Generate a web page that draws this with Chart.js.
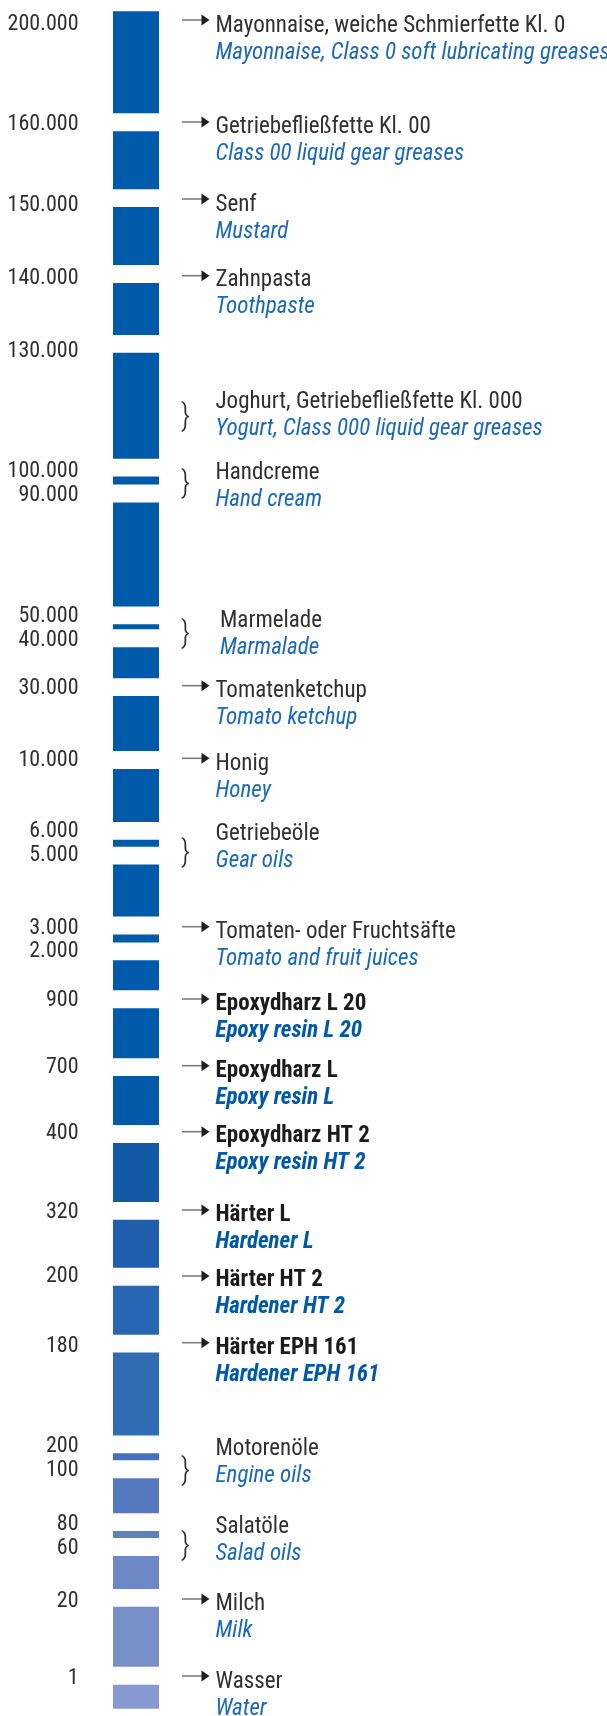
<!DOCTYPE html>
<html>
<head>
<meta charset="utf-8">
<script src="https://cdn.jsdelivr.net/npm/chart.js@4/dist/chart.umd.min.js"></script>
<style>
  html, body { margin: 0; padding: 0; background: #fff; }
  canvas { display: block; }
</style>
</head>
<body>
<canvas id="scale" width="607" height="1716"></canvas>
<script>
// column pieces, top to bottom (axis units)
const segStart = 11.3;
const segGap = 17.86;
const segLen = [102, 58, 58, 52, 106, 8, 104, 5, 31, 55, 53, 7, 52, 8, 30, 50, 49, 59, 48, 49, 83, 7, 35, 7, 33, 60, 24];
const segColors = [
  "#005aaa", "#005aaa", "#005aaa", "#005aaa", "#005aaa", "#005aaa", "#005aaa", "#005aaa", "#005aaa",
  "#005aaa", "#005aaa", "#005aaa", "#005aaa", "#005aaa", "#005aaa", "#005aaa", "#0559a9", "#1259a8",
  "#1f5fad", "#2766b3", "#306db5", "#4771ba", "#5479bf", "#6180c2", "#6d88c4", "#7890c8", "#8799cf"
];

// viscosity values (mPa·s) on the left
const tickAt = [24, 124, 205, 278, 351, 471, 495, 616, 640, 688, 760, 831, 855, 928, 951.7,
  1000.5, 1067, 1133, 1212, 1276.5, 1346, 1446.7, 1470.7, 1524, 1548, 1601.7, 1678];
const tickText = ["200.000", "160.000", "150.000", "140.000", "130.000", "100.000", "90.000",
  "50.000", "40.000", "30.000", "10.000", "6.000", "5.000", "3.000", "2.000",
  "900", "700", "400", "320", "200", "180", "200", "100", "80", "60", "20", "1"];

// notes on the right
const noteDe = ["Mayonnaise, weiche Schmierfette Kl. 0", "Getriebefließfette Kl. 00", "Senf", "Zahnpasta",
  "Joghurt, Getriebefließfette Kl. 000", "Handcreme", "Marmelade", "Tomatenketchup", "Honig", "Getriebeöle",
  "Tomaten- oder Fruchtsäfte", "Epoxydharz L 20", "Epoxydharz L", "Epoxydharz HT 2", "Härter L", "Härter HT 2",
  "Härter EPH 161", "Motorenöle", "Salatöle", "Milch", "Wasser"];
const noteEn = ["Mayonnaise, Class 0 soft lubricating greases", "Class 00 liquid gear greases", "Mustard", "Toothpaste",
  "Yogurt, Class 000 liquid gear greases", "Hand cream", "Marmalade", "Tomato ketchup", "Honey", "Gear oils",
  "Tomato and fruit juices", "Epoxy resin L 20", "Epoxy resin L", "Epoxy resin HT 2", "Hardener L", "Hardener HT 2",
  "Hardener EPH 161", "Engine oils", "Salad oils", "Milk", "Water"];
const noteAt = [23, 124.5, 202, 277.5, 399, 470, 618, 688, 761, 831, 929.5, 1001.5, 1068, 1133, 1212, 1277.5,
  1345.5, 1446.5, 1524.5, 1601.5, 1679];
const markAt = [20, 122, 199, 275.7, 416.5, 483.5, 633, 685.7, 758.3, 852.5, 926.7, 999, 1065.7, 1131.7, 1210, 1276,
  1342.7, 1470, 1545, 1599, 1676];
const noteMark = ["arrow", "arrow", "arrow", "arrow", "brace", "brace", "brace", "arrow", "arrow", "brace",
  "arrow", "arrow", "arrow", "arrow", "arrow", "arrow", "arrow", "brace", "brace", "arrow", "arrow"];
const noteBold = [false, false, false, false, false, false, false, false, false, false,
  false, true, true, true, true, true, true, false, false, false, false];

const FAMILY = "'Roboto Condensed', 'DejaVu Sans Condensed', sans-serif";
const FS = 23;
const TEXT_X = 215.5;
const LINE_STEP = 27;

let pos = segStart;
const segments = segLen.map(len => {
  const s = pos;
  pos += len + segGap;
  return [s, s + len];
});

// one line of text, capitals centred on cy
function drawText(ctx, txt, x, cy, font, color) {
  ctx.font = font;
  ctx.fillStyle = color;
  ctx.textAlign = "left";
  ctx.textBaseline = "alphabetic";
  const cap = ctx.measureText("H").actualBoundingBoxAscent;
  ctx.fillText(txt, x, cy + cap / 2);
}

function drawArrow(ctx, y) {
  ctx.strokeStyle = "#7d7d7d";
  ctx.lineWidth = 1.6;
  ctx.beginPath();
  ctx.moveTo(182, y);
  ctx.lineTo(203, y);
  ctx.stroke();
  ctx.fillStyle = "#1e1e1e";
  ctx.beginPath();
  ctx.moveTo(201.5, y - 5.5);
  ctx.lineTo(209.5, y);
  ctx.lineTo(201.5, y + 5.5);
  ctx.closePath();
  ctx.fill();
}

function drawBrace(ctx, y) {
  ctx.font = "300 31px " + FAMILY;
  ctx.fillStyle = "#2a2a2a";
  ctx.textAlign = "left";
  ctx.textBaseline = "alphabetic";
  const m = ctx.measureText("}");
  ctx.fillText("}", 181, y + (m.actualBoundingBoxAscent - m.actualBoundingBoxDescent) / 2);
}

const notesPlugin = {
  id: "notes",
  afterDraw(chart) {
    const { ctx } = chart;
    const y = chart.scales.y;
    ctx.save();
    noteDe.forEach((de, i) => {
      const my = y.getPixelForValue(markAt[i]);
      if (noteMark[i] === "arrow") drawArrow(ctx, my);
      else drawBrace(ctx, my);
      const x = TEXT_X + (de === "Marmelade" ? 4.5 : 0);
      const b = noteBold[i];
      drawText(ctx, de, x, y.getPixelForValue(noteAt[i]), (b ? "bold " : "") + FS + "px " + FAMILY, b ? "#1b1b1b" : "#303030");
      drawText(ctx, noteEn[i], x, y.getPixelForValue(noteAt[i] + LINE_STEP), "italic " + (b ? "bold " : "") + FS + "px " + FAMILY, b ? "#0058a8" : "#1a68b8");
    });
    ctx.restore();
  }
};

new Chart(document.getElementById("scale"), {
  type: "bar",
  data: {
    labels: [""],
    datasets: segments.map((seg, i) => ({
      data: [seg],
      backgroundColor: segColors[i],
      borderWidth: 0,
      grouped: false,
      barPercentage: 0.5,
      categoryPercentage: 1
    }))
  },
  options: {
    responsive: false,
    animation: false,
    devicePixelRatio: 1,
    layout: { padding: { left: 0, right: 425, top: 0, bottom: 0 } },
    plugins: { legend: { display: false }, tooltip: { enabled: false } },
    scales: {
      x: { display: false },
      y: {
        min: 0,
        max: 1716,
        reverse: true,
        grid: { display: false, drawTicks: false },
        border: { display: false },
        afterBuildTicks: s => { s.ticks = tickAt.map(v => ({ value: v })); },
        afterFit: s => { s.width = 90; s.paddingTop = 0; s.paddingBottom = 0; },
        ticks: {
          autoSkip: false,
          padding: 11.5,
          color: "#303030",
          font: { family: FAMILY, size: 22 },
          callback: (v, i) => tickText[i]
        }
      }
    }
  },
  plugins: [notesPlugin]
});
</script>
</body>
</html>
